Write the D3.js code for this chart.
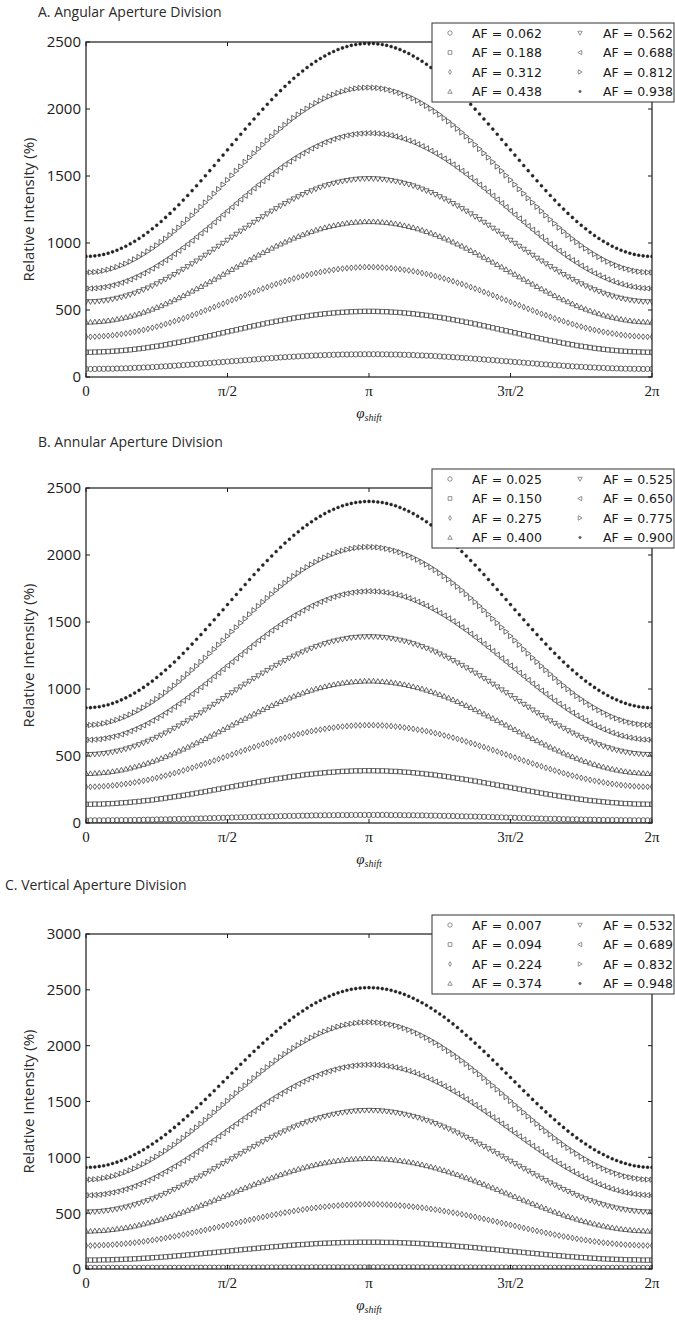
<!DOCTYPE html>
<html>
<head>
<meta charset="utf-8">
<script src="https://cdn.jsdelivr.net/npm/d3@7"></script>
<style>
  body { margin: 0; background: #fff; }
  svg { display: block; }
</style>
</head>
<body>
<div id="chart"></div>
<script>
// phase shift samples, in units of pi
const phi = [0, 0.015625, 0.03125, 0.046875, 0.0625, 0.078125, 0.09375, 0.109375, 0.125, 0.140625,
  0.15625, 0.171875, 0.1875, 0.203125, 0.21875, 0.234375, 0.25, 0.265625, 0.28125, 0.296875,
  0.3125, 0.328125, 0.34375, 0.359375, 0.375, 0.390625, 0.40625, 0.421875, 0.4375, 0.453125,
  0.46875, 0.484375, 0.5, 0.515625, 0.53125, 0.546875, 0.5625, 0.578125, 0.59375, 0.609375,
  0.625, 0.640625, 0.65625, 0.671875, 0.6875, 0.703125, 0.71875, 0.734375, 0.75, 0.765625,
  0.78125, 0.796875, 0.8125, 0.828125, 0.84375, 0.859375, 0.875, 0.890625, 0.90625, 0.921875,
  0.9375, 0.953125, 0.96875, 0.984375, 1, 1.015625, 1.03125, 1.046875, 1.0625, 1.078125,
  1.09375, 1.109375, 1.125, 1.140625, 1.15625, 1.171875, 1.1875, 1.203125, 1.21875, 1.234375,
  1.25, 1.265625, 1.28125, 1.296875, 1.3125, 1.328125, 1.34375, 1.359375, 1.375, 1.390625,
  1.40625, 1.421875, 1.4375, 1.453125, 1.46875, 1.484375, 1.5, 1.515625, 1.53125, 1.546875,
  1.5625, 1.578125, 1.59375, 1.609375, 1.625, 1.640625, 1.65625, 1.671875, 1.6875, 1.703125,
  1.71875, 1.734375, 1.75, 1.765625, 1.78125, 1.796875, 1.8125, 1.828125, 1.84375, 1.859375,
  1.875, 1.890625, 1.90625, 1.921875, 1.9375, 1.953125, 1.96875, 1.984375, 2];

const xTickValues = [0, 0.5, 1, 1.5, 2];
const xTickLabels = ["0", "π/2", "π", "3π/2", "2π"];
const yTicks2500 = [0, 500, 1000, 1500, 2000, 2500];
const yTicks3000 = [0, 500, 1000, 1500, 2000, 2500, 3000];

const panelTitles = ["A. Angular Aperture Division", "B. Annular Aperture Division", "C. Vertical Aperture Division"];

const angularAF = ["0.062", "0.188", "0.312", "0.438", "0.562", "0.688", "0.812", "0.938"];
const annularAF = ["0.025", "0.150", "0.275", "0.400", "0.525", "0.650", "0.775", "0.900"];
const verticalAF = ["0.007", "0.094", "0.224", "0.374", "0.532", "0.689", "0.832", "0.948"];

const angularIntensity = [
  [60,60,60,61,61,62,62,63,64,65,66,68,69,71,72,74,76,78,80,82,84,87,89,91,94,96,99,102,104,107,110,112,115,118,120,123,126,128,131,134,136,139,141,143,146,148,150,152,154,156,158,159,161,162,164,165,166,167,168,168,169,169,170,170,170,
   170,170,169,169,168,168,167,166,165,164,162,161,159,158,156,154,152,150,148,146,143,141,139,136,134,131,128,126,123,120,118,115,112,110,107,104,102,99,96,94,91,89,87,84,82,80,78,76,74,72,71,69,68,66,65,64,63,62,62,61,61,60,60,60],
  [185,185,186,187,188,190,192,194,197,200,203,207,211,215,220,225,230,235,241,247,253,259,266,272,279,286,293,300,308,315,323,330,338,345,352,360,367,375,382,389,396,403,409,416,422,428,434,440,445,450,455,460,464,468,472,475,478,481,483,485,487,488,489,490,490,
   490,489,488,487,485,483,481,478,475,472,468,464,460,455,450,445,440,434,428,422,416,409,403,396,389,382,375,367,360,352,345,338,330,323,315,308,300,293,286,279,272,266,259,253,247,241,235,230,225,220,215,211,207,203,200,197,194,192,190,188,187,186,185,185],
  [300,300,301,303,305,308,311,315,320,325,331,337,344,351,359,367,376,385,395,405,416,426,437,449,461,472,485,497,509,522,535,547,560,573,585,598,611,623,635,648,660,671,683,694,704,715,725,735,744,753,761,769,776,783,789,795,800,805,809,812,815,817,819,820,820,
   820,819,817,815,812,809,805,800,795,789,783,776,769,761,753,744,735,725,715,704,694,683,671,660,648,635,623,611,598,585,573,560,547,535,522,509,497,485,472,461,449,437,426,416,405,395,385,376,367,359,351,344,337,331,325,320,315,311,308,305,303,301,300,300],
  [410,410,412,414,417,421,426,432,439,446,454,463,473,484,495,507,520,533,547,562,577,592,608,625,642,659,676,694,712,730,748,767,785,803,822,840,858,876,894,911,929,945,962,978,993,1008,1023,1037,1050,1063,1075,1086,1097,1107,1116,1124,1131,1138,1144,1149,1153,1156,1158,1160,1160,
   1160,1158,1156,1153,1149,1144,1138,1131,1124,1116,1107,1097,1086,1075,1063,1050,1037,1023,1008,993,978,962,945,929,911,894,876,858,840,822,803,785,767,748,730,712,694,676,659,642,625,608,592,577,562,547,533,520,507,495,484,473,463,454,446,439,432,426,421,417,414,412,410,410],
  [560,561,562,565,569,574,580,587,595,604,614,625,638,651,664,679,695,711,728,746,764,784,803,823,844,865,886,908,930,953,975,997,1020,1043,1065,1088,1110,1132,1154,1175,1196,1217,1237,1256,1276,1294,1312,1329,1345,1361,1376,1389,1402,1415,1426,1436,1445,1453,1460,1466,1471,1475,1478,1479,1480,
   1479,1478,1475,1471,1466,1460,1453,1445,1436,1426,1415,1402,1389,1376,1361,1345,1329,1312,1294,1276,1256,1237,1217,1196,1175,1154,1132,1110,1088,1065,1043,1020,997,975,953,930,908,886,865,844,823,803,784,764,746,728,711,695,679,664,651,638,625,614,604,595,587,580,574,569,565,562,561,560],
  [660,661,663,666,671,677,685,694,704,716,728,743,758,774,792,810,830,851,872,894,918,942,967,992,1018,1045,1072,1099,1127,1155,1183,1212,1240,1268,1297,1325,1353,1381,1408,1435,1462,1488,1513,1538,1562,1586,1608,1630,1650,1670,1688,1706,1722,1737,1752,1764,1776,1786,1795,1803,1809,1814,1817,1819,1820,
   1819,1817,1814,1809,1803,1795,1786,1776,1764,1752,1737,1722,1706,1688,1670,1650,1630,1608,1586,1562,1538,1513,1488,1462,1435,1408,1381,1353,1325,1297,1268,1240,1212,1183,1155,1127,1099,1072,1045,1018,992,967,942,918,894,872,851,830,810,792,774,758,743,728,716,704,694,685,677,671,666,663,661,660],
  [780,781,783,787,793,801,810,820,833,846,861,878,896,916,937,959,982,1007,1032,1059,1087,1115,1145,1175,1206,1238,1270,1302,1335,1369,1402,1436,1470,1504,1538,1571,1605,1638,1670,1702,1734,1765,1795,1825,1853,1881,1908,1933,1958,1981,2003,2024,2044,2062,2079,2094,2107,2120,2130,2139,2147,2153,2157,2159,2160,
   2159,2157,2153,2147,2139,2130,2120,2107,2094,2079,2062,2044,2024,2003,1981,1958,1933,1908,1881,1853,1825,1795,1765,1734,1702,1670,1638,1605,1571,1538,1504,1470,1436,1402,1369,1335,1302,1270,1238,1206,1175,1145,1115,1087,1059,1032,1007,982,959,937,916,896,878,861,846,833,820,810,801,793,787,783,781,780],
  [900,901,904,909,915,924,934,946,961,976,994,1013,1034,1056,1080,1106,1133,1161,1191,1221,1253,1286,1320,1355,1391,1427,1464,1502,1540,1578,1617,1656,1695,1734,1773,1812,1850,1888,1926,1963,1999,2035,2070,2104,2137,2169,2199,2229,2257,2284,2310,2334,2356,2377,2396,2414,2429,2444,2456,2466,2475,2481,2486,2489,2490,
   2489,2486,2481,2475,2466,2456,2444,2429,2414,2396,2377,2356,2334,2310,2284,2257,2229,2199,2169,2137,2104,2070,2035,1999,1963,1926,1888,1850,1812,1773,1734,1695,1656,1617,1578,1540,1502,1464,1427,1391,1355,1320,1286,1253,1221,1191,1161,1133,1106,1080,1056,1034,1013,994,976,961,946,934,924,915,909,904,901,900]
];

const annularIntensity = [
  [20,20,20,20,20,21,21,21,22,22,22,23,23,24,25,25,26,27,27,28,29,30,31,31,32,33,34,35,36,37,38,39,40,41,42,43,44,45,46,47,48,49,49,50,51,52,53,53,54,55,55,56,57,57,58,58,58,59,59,59,60,60,60,60,60,
   60,60,60,60,59,59,59,58,58,58,57,57,56,55,55,54,53,53,52,51,50,49,49,48,47,46,45,44,43,42,41,40,39,38,37,36,35,34,33,32,31,31,30,29,28,27,27,26,25,25,24,23,23,22,22,22,21,21,21,20,20,20,20,20],
  [140,140,141,141,142,144,145,147,150,152,155,158,161,165,168,172,177,181,186,191,196,201,206,212,217,223,229,235,241,247,253,259,265,271,277,283,289,295,301,307,313,318,324,329,334,339,344,349,353,358,362,365,369,372,375,378,380,383,385,386,388,389,389,390,390,
   390,389,389,388,386,385,383,380,378,375,372,369,365,362,358,353,349,344,339,334,329,324,318,313,307,301,295,289,283,277,271,265,259,253,247,241,235,229,223,217,212,206,201,196,191,186,181,177,172,168,165,161,158,155,152,150,147,145,144,142,141,141,140,140],
  [270,270,271,272,274,277,280,283,288,292,297,303,309,315,322,330,337,346,354,363,372,382,392,402,412,423,433,444,455,466,477,489,500,511,523,534,545,556,567,577,588,598,608,618,628,637,646,654,663,670,678,685,691,697,703,708,712,717,720,723,726,728,729,730,730,
   730,729,728,726,723,720,717,712,708,703,697,691,685,678,670,663,654,646,637,628,618,608,598,588,577,567,556,545,534,523,511,500,489,477,466,455,444,433,423,412,402,392,382,372,363,354,346,337,330,322,315,309,303,297,292,288,283,280,277,274,272,271,270,270],
  [370,370,372,374,377,380,385,390,396,403,411,419,428,438,448,459,471,483,496,509,523,538,552,567,583,599,615,631,648,664,681,698,715,732,749,766,782,799,815,831,847,863,878,892,907,921,934,947,959,971,982,992,1002,1011,1019,1027,1034,1040,1045,1050,1053,1056,1058,1060,1060,
   1060,1058,1056,1053,1050,1045,1040,1034,1027,1019,1011,1002,992,982,971,959,947,934,921,907,892,878,863,847,831,815,799,782,766,749,732,715,698,681,664,648,631,615,599,583,567,552,538,523,509,496,483,471,459,448,438,428,419,411,403,396,390,385,380,377,374,372,370,370],
  [510,511,512,515,518,523,529,536,543,552,562,573,584,597,610,624,639,655,671,688,706,724,743,762,782,802,822,843,864,885,907,928,950,972,993,1015,1036,1057,1078,1098,1118,1138,1157,1176,1194,1212,1229,1245,1261,1276,1290,1303,1316,1327,1338,1348,1357,1364,1371,1377,1382,1385,1388,1389,1390,
   1389,1388,1385,1382,1377,1371,1364,1357,1348,1338,1327,1316,1303,1290,1276,1261,1245,1229,1212,1194,1176,1157,1138,1118,1098,1078,1057,1036,1015,993,972,950,928,907,885,864,843,822,802,782,762,743,724,706,688,671,655,639,624,610,597,584,573,562,552,543,536,529,523,518,515,512,511,510],
  [620,621,623,626,631,637,644,652,662,673,686,699,714,729,746,764,783,802,823,844,867,890,913,938,963,988,1014,1040,1067,1094,1121,1148,1175,1202,1229,1256,1283,1310,1336,1362,1387,1412,1437,1460,1483,1506,1527,1548,1567,1586,1604,1621,1636,1651,1664,1677,1688,1698,1706,1713,1719,1724,1727,1729,1730,
   1729,1727,1724,1719,1713,1706,1698,1688,1677,1664,1651,1636,1621,1604,1586,1567,1548,1527,1506,1483,1460,1437,1412,1387,1362,1336,1310,1283,1256,1229,1202,1175,1148,1121,1094,1067,1040,1014,988,963,938,913,890,867,844,823,802,783,764,746,729,714,699,686,673,662,652,644,637,631,626,623,621,620],
  [730,731,733,737,743,750,759,769,781,794,809,825,842,861,881,902,925,948,973,999,1026,1053,1082,1111,1141,1171,1202,1233,1265,1297,1330,1362,1395,1428,1460,1493,1525,1557,1588,1619,1649,1679,1708,1737,1764,1791,1817,1842,1865,1888,1909,1929,1948,1965,1981,1996,2009,2021,2031,2040,2047,2053,2057,2059,2060,
   2059,2057,2053,2047,2040,2031,2021,2009,1996,1981,1965,1948,1929,1909,1888,1865,1842,1817,1791,1764,1737,1708,1679,1649,1619,1588,1557,1525,1493,1460,1428,1395,1362,1330,1297,1265,1233,1202,1171,1141,1111,1082,1053,1026,999,973,948,925,902,881,861,842,825,809,794,781,769,759,750,743,737,733,731,730],
  [860,861,864,868,875,883,893,905,919,934,951,970,990,1012,1035,1059,1086,1113,1142,1171,1202,1234,1267,1301,1335,1371,1406,1443,1480,1517,1555,1592,1630,1668,1705,1743,1780,1817,1854,1889,1925,1959,1993,2026,2058,2089,2118,2147,2174,2201,2225,2248,2270,2290,2309,2326,2341,2355,2367,2377,2385,2392,2396,2399,2400,
   2399,2396,2392,2385,2377,2367,2355,2341,2326,2309,2290,2270,2248,2225,2201,2174,2147,2118,2089,2058,2026,1993,1959,1925,1889,1854,1817,1780,1743,1705,1668,1630,1592,1555,1517,1480,1443,1406,1371,1335,1301,1267,1234,1202,1171,1142,1113,1086,1059,1035,1012,990,970,951,934,919,905,893,883,875,868,864,861,860]
];

const verticalIntensity = [
  [10,10,10,10,10,10,10,10,10,10,10,10,10,10,11,11,11,11,11,11,11,11,11,11,12,12,12,12,12,12,12,12,12,13,13,13,13,13,13,13,13,14,14,14,14,14,14,14,14,14,14,15,15,15,15,15,15,15,15,15,15,15,15,15,15,
   15,15,15,15,15,15,15,15,15,15,15,15,15,14,14,14,14,14,14,14,14,14,14,13,13,13,13,13,13,13,13,12,12,12,12,12,12,12,12,12,11,11,11,11,11,11,11,11,11,11,10,10,10,10,10,10,10,10,10,10,10,10,10,10],
  [80,80,80,81,82,82,83,85,86,88,89,91,93,96,98,101,103,106,109,112,116,119,122,126,129,133,137,141,144,148,152,156,160,164,168,172,176,179,183,187,191,194,198,201,204,208,211,214,217,219,222,224,227,229,231,232,234,235,237,238,238,239,240,240,240,
   240,240,239,238,238,237,235,234,232,231,229,227,224,222,219,217,214,211,208,204,201,198,194,191,187,183,179,176,172,168,164,160,156,152,148,144,141,137,133,129,126,122,119,116,112,109,106,103,101,98,96,93,91,89,88,86,85,83,82,82,81,80,80,80],
  [210,210,211,212,214,216,218,221,224,228,232,236,241,246,252,258,264,271,278,285,292,300,308,316,324,333,341,350,359,368,377,386,395,404,413,422,431,440,449,457,466,474,482,490,498,505,512,519,526,532,538,544,549,554,558,562,566,569,572,574,576,578,579,580,580,
   580,579,578,576,574,572,569,566,562,558,554,549,544,538,532,526,519,512,505,498,490,482,474,466,457,449,440,431,422,413,404,395,386,377,368,359,350,341,333,324,316,308,300,292,285,278,271,264,258,252,246,241,236,232,228,224,221,218,216,214,212,211,210,210],
  [340,340,342,344,346,350,354,359,365,371,378,386,395,404,414,424,435,447,459,471,484,498,512,526,541,556,571,586,602,617,633,649,665,681,697,713,728,744,759,774,789,804,818,832,846,859,871,883,895,906,916,926,935,944,952,959,965,971,976,980,984,986,988,990,990,
   990,988,986,984,980,976,971,965,959,952,944,935,926,916,906,895,883,871,859,846,832,818,804,789,774,759,744,728,713,697,681,665,649,633,617,602,586,571,556,541,526,512,498,484,471,459,447,435,424,414,404,395,386,378,371,365,359,354,350,346,344,342,340,340],
  [510,511,512,515,519,524,530,537,545,554,564,575,587,600,613,628,643,659,676,694,712,731,751,770,791,812,833,854,876,898,920,943,965,987,1010,1032,1054,1076,1097,1118,1139,1160,1179,1199,1218,1236,1254,1271,1287,1302,1317,1330,1343,1355,1366,1376,1385,1393,1400,1406,1411,1415,1418,1419,1420,
   1419,1418,1415,1411,1406,1400,1393,1385,1376,1366,1355,1343,1330,1317,1302,1287,1271,1254,1236,1218,1199,1179,1160,1139,1118,1097,1076,1054,1032,1010,987,965,943,920,898,876,854,833,812,791,770,751,731,712,694,676,659,643,628,613,600,587,575,564,554,545,537,530,524,519,515,512,511,510],
  [660,661,663,666,671,678,685,694,705,716,729,743,759,775,793,812,831,852,874,897,920,944,969,995,1021,1048,1075,1103,1131,1159,1188,1216,1245,1274,1302,1331,1359,1387,1415,1442,1469,1495,1521,1546,1570,1593,1616,1638,1659,1678,1697,1715,1731,1747,1761,1774,1785,1796,1805,1812,1819,1824,1827,1829,1830,
   1829,1827,1824,1819,1812,1805,1796,1785,1774,1761,1747,1731,1715,1697,1678,1659,1638,1616,1593,1570,1546,1521,1495,1469,1442,1415,1387,1359,1331,1302,1274,1245,1216,1188,1159,1131,1103,1075,1048,1021,995,969,944,920,897,874,852,831,812,793,775,759,743,729,716,705,694,685,678,671,666,663,661,660],
  [800,801,803,808,814,821,830,841,854,868,883,900,919,939,960,983,1006,1032,1058,1085,1113,1143,1173,1204,1235,1267,1300,1334,1367,1402,1436,1470,1505,1540,1574,1608,1643,1676,1710,1743,1775,1806,1837,1867,1897,1925,1952,1978,2004,2027,2050,2071,2091,2110,2127,2142,2156,2169,2180,2189,2196,2202,2207,2209,2210,
   2209,2207,2202,2196,2189,2180,2169,2156,2142,2127,2110,2091,2071,2050,2027,2004,1978,1952,1925,1897,1867,1837,1806,1775,1743,1710,1676,1643,1608,1574,1540,1505,1470,1436,1402,1367,1334,1300,1267,1235,1204,1173,1143,1113,1085,1058,1032,1006,983,960,939,919,900,883,868,854,841,830,821,814,808,803,801,800],
  [910,911,914,919,925,934,945,957,971,987,1005,1025,1046,1068,1093,1119,1146,1174,1204,1235,1268,1301,1336,1371,1407,1444,1481,1519,1558,1597,1636,1676,1715,1755,1794,1833,1872,1911,1949,1986,2023,2059,2094,2129,2162,2195,2226,2256,2284,2311,2337,2362,2384,2405,2425,2443,2459,2473,2485,2496,2505,2511,2516,2519,2520,
   2519,2516,2511,2505,2496,2485,2473,2459,2443,2425,2405,2384,2362,2337,2311,2284,2256,2226,2195,2162,2129,2094,2059,2023,1986,1949,1911,1872,1833,1794,1755,1715,1676,1636,1597,1558,1519,1481,1444,1407,1371,1336,1301,1268,1235,1204,1174,1146,1119,1093,1068,1046,1025,1005,987,971,957,945,934,925,919,914,911,910]
];

const width = 675, height = 1331;
const plotLeft = 86, plotRight = 652, plotHeight = 335;
const markers = ["o", "s", "d", "^", "v", "<", ">", "."];
const ink = "#1a1a1a";

const panels = [
  { title: panelTitles[0], titleX: 38, titleY: 17, top: 42, ticks: yTicks2500, af: angularAF, series: angularIntensity },
  { title: panelTitles[1], titleX: 38, titleY: 447, top: 488, ticks: yTicks2500, af: annularAF, series: annularIntensity },
  { title: panelTitles[2], titleX: 5, titleY: 890, top: 934, ticks: yTicks3000, af: verticalAF, series: verticalIntensity }
];

function markerPath(type, r) {
  switch (type) {
    case "o": return `M${r},0A${r},${r} 0 1,1 ${-r},0A${r},${r} 0 1,1 ${r},0Z`;
    case "s": { const h = r * 0.85; return `M${-h},${-h}H${h}V${h}H${-h}Z`; }
    case "d": return `M0,${-r * 1.1}L${r * 0.65},0L0,${r * 1.1}L${-r * 0.65},0Z`;
    case "^": return `M0,${-r}L${r},${r * 0.8}L${-r},${r * 0.8}Z`;
    case "v": return `M0,${r}L${r},${-r * 0.8}L${-r},${-r * 0.8}Z`;
    case "<": return `M${-r},0L${r * 0.8},${-r}L${r * 0.8},${r}Z`;
    case ">": return `M${r},0L${-r * 0.8},${-r}L${-r * 0.8},${r}Z`;
    default: { const p = r * 0.55; return `M${p},0A${p},${p} 0 1,1 ${-p},0A${p},${p} 0 1,1 ${p},0Z`; }
  }
}

const svg = d3.select("#chart").append("svg")
  .attr("width", width)
  .attr("height", height);

const x = d3.scaleLinear().domain([0, 2]).range([plotLeft, plotRight]);

panels.forEach((p, pi) => {
  const bottom = p.top + plotHeight;
  const y = d3.scaleLinear().domain([0, d3.max(p.ticks)]).range([bottom, p.top]);
  const g = svg.append("g");

  g.append("text")
    .attr("x", p.titleX)
    .attr("y", p.titleY)
    .attr("font-family", "'Open Sans', sans-serif")
    .attr("font-size", 14)
    .attr("fill", "#2a2a2a")
    .text(p.title);

  g.append("clipPath").attr("id", `clip${pi}`)
    .append("rect")
    .attr("x", plotLeft).attr("y", p.top)
    .attr("width", plotRight - plotLeft).attr("height", plotHeight);

  const plotArea = g.append("g").attr("clip-path", `url(#clip${pi})`);

  p.series.forEach((vals, si) => {
    if (vals.length !== phi.length) console.warn("series length", pi, si, vals.length);
    const type = markers[si];
    const dot = type === ".";
    plotArea.append("g")
      .selectAll("path")
      .data(vals)
      .join("path")
      .attr("transform", (d, i) => `translate(${x(phi[i])},${y(d)})`)
      .attr("d", markerPath(type, dot ? 2.8 : 2.6))
      .attr("fill", dot ? "#222" : "none")
      .attr("stroke", dot ? "#222" : "#3a3a3a")
      .attr("stroke-width", dot ? 0.4 : 0.75);
  });

  // frame and inward ticks on all four sides
  g.append("rect")
    .attr("x", plotLeft).attr("y", p.top)
    .attr("width", plotRight - plotLeft).attr("height", plotHeight)
    .attr("fill", "none")
    .attr("stroke", ink)
    .attr("stroke-width", 1.2);

  const tickLen = 4;
  g.append("g").selectAll("path")
    .data(p.ticks)
    .join("path")
    .attr("d", d => `M${plotLeft},${y(d)}h${tickLen}M${plotRight},${y(d)}h${-tickLen}`)
    .attr("stroke", ink);

  g.append("g").selectAll("path")
    .data(xTickValues)
    .join("path")
    .attr("d", d => `M${x(d)},${bottom}v${-tickLen}M${x(d)},${p.top}v${tickLen}`)
    .attr("stroke", ink);

  g.append("g").selectAll("text")
    .data(p.ticks)
    .join("text")
    .attr("x", plotLeft - 5)
    .attr("y", d => y(d))
    .attr("dy", "0.36em")
    .attr("text-anchor", "end")
    .attr("font-family", "'Open Sans', sans-serif")
    .attr("font-size", 15)
    .attr("fill", ink)
    .text(d => d);

  g.append("g").selectAll("text")
    .data(xTickValues)
    .join("text")
    .attr("x", d => x(d))
    .attr("y", bottom + 19)
    .attr("text-anchor", "middle")
    .attr("font-family", "'Liberation Serif', serif")
    .attr("font-size", 15)
    .attr("fill", ink)
    .text((d, i) => xTickLabels[i]);

  const xl = g.append("text")
    .attr("x", (plotLeft + plotRight) / 2)
    .attr("y", bottom + 41)
    .attr("text-anchor", "middle")
    .attr("font-family", "'Liberation Serif', serif")
    .attr("font-style", "italic")
    .attr("fill", ink);
  xl.append("tspan").attr("font-size", 15).text("φ");
  xl.append("tspan").attr("font-size", 10).attr("dy", 3).text("shift");

  g.append("text")
    .attr("transform", `translate(34,${p.top + plotHeight / 2}) rotate(-90)`)
    .attr("text-anchor", "middle")
    .attr("font-family", "'Open Sans', sans-serif")
    .attr("font-size", 15)
    .attr("fill", "#2a2a2a")
    .text("Relative Intensity (%)");

  // legend, sticks out above the top right corner
  const lg = g.append("g").attr("transform", `translate(432,${p.top - 19})`);
  lg.append("rect")
    .attr("width", 242).attr("height", 79)
    .attr("fill", "#fff")
    .attr("stroke", "#333")
    .attr("stroke-width", 1);

  const items = lg.selectAll("g.item")
    .data(p.af)
    .join("g")
    .attr("class", "item")
    .attr("transform", (d, i) => `translate(${i < 4 ? 18 : 148},${10 + (i % 4) * 19.5})`);

  items.append("path")
    .attr("d", (d, i) => markerPath(markers[i], 2.2))
    .attr("fill", (d, i) => markers[i] === "." ? "#555" : "none")
    .attr("stroke", "#777")
    .attr("stroke-width", 0.8);

  items.append("text")
    .attr("x", (d, i) => i < 4 ? 22 : 23)
    .attr("dy", "0.36em")
    .attr("font-family", "'DejaVu Sans', sans-serif")
    .attr("font-size", 12.5)
    .attr("fill", ink)
    .text(d => `AF = ${d}`);
});
</script>
</body>
</html>
